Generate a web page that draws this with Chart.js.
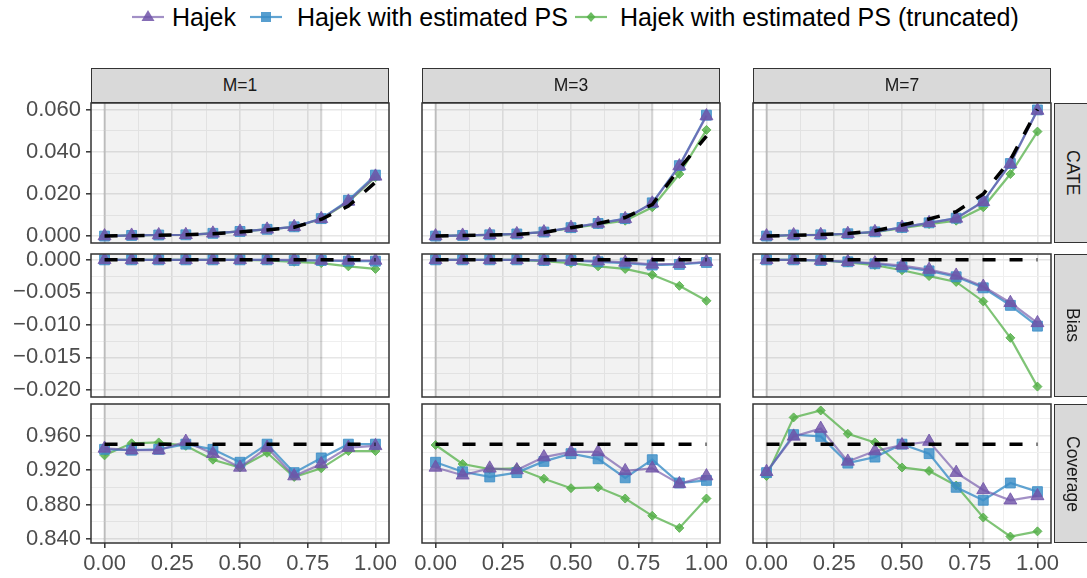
<!DOCTYPE html>
<html>
<head>
<meta charset="utf-8">
<title>Hajek estimators by M</title>
<script src="https://cdn.jsdelivr.net/npm/chart.js@4.4.1/dist/chart.umd.min.js"></script>
<style>
  body { margin: 0; background: #fff; font-family: "Liberation Sans", Arial, sans-serif; }
  #wrap { position: relative; width: 1087px; height: 578px; overflow: hidden; }
  canvas { position: absolute; }
  .strip { position: absolute; box-sizing: border-box; background: #d9d9d9; border: 1.5px solid #333;
           color: #1a1a1a; font-size: 17.5px; display: flex; align-items: center; justify-content: center; }
  .strip.side span { writing-mode: vertical-rl; }
  .key { position: absolute; top: 7px; }
  .ktext { position: absolute; top: 5px; font-size: 25px; line-height: 25px; color: #000; white-space: nowrap; }
</style>
</head>
<body>
<div id="wrap"></div>
<script>
// x grid shared by every panel
const xVals = [0, 0.1, 0.2, 0.3, 0.4, 0.5, 0.6, 0.7, 0.8, 0.9, 1.0];
const colLabels = ['M=1', 'M=3', 'M=7'];
const rowLabels = ['CATE', 'Bias', 'Coverage'];
const seriesNames = ['Hajek', 'Hajek with estimated PS', 'Hajek with estimated PS (truncated)'];

// CATE (one array per M)
const cateTruth = [
  [0.0000, 0.0002, 0.0004, 0.0006, 0.0011, 0.0019, 0.0029, 0.0042, 0.0080, 0.0143, 0.0256],
  [0.0000, 0.0003, 0.0005, 0.0008, 0.0017, 0.0040, 0.0060, 0.0088, 0.0150, 0.0320, 0.0475],
  [0.0000, 0.0004, 0.0007, 0.0012, 0.0025, 0.0052, 0.0081, 0.0116, 0.0200, 0.0362, 0.0603]
];
const cateHajek = [
  [0.0000, 0.0003, 0.0005, 0.0006, 0.0013, 0.0022, 0.0032, 0.0044, 0.0082, 0.0165, 0.0284],
  [0.0000, 0.0003, 0.0006, 0.0010, 0.0019, 0.0040, 0.0060, 0.0082, 0.0156, 0.0333, 0.0571],
  [0.0000, 0.0005, 0.0006, 0.0011, 0.0020, 0.0041, 0.0063, 0.0084, 0.0163, 0.0343, 0.0597]
];
const cateHajekPS = [
  [0.0000, 0.0003, 0.0005, 0.0006, 0.0013, 0.0022, 0.0032, 0.0044, 0.0083, 0.0170, 0.0290],
  [0.0000, 0.0003, 0.0006, 0.0010, 0.0019, 0.0040, 0.0060, 0.0083, 0.0158, 0.0335, 0.0575],
  [0.0000, 0.0005, 0.0006, 0.0011, 0.0020, 0.0041, 0.0063, 0.0085, 0.0165, 0.0345, 0.0600]
];
const cateHajekPSTrunc = [
  [0.0000, 0.0003, 0.0005, 0.0006, 0.0013, 0.0022, 0.0032, 0.0043, 0.0081, 0.0163, 0.0280],
  [0.0000, 0.0003, 0.0006, 0.0010, 0.0018, 0.0038, 0.0056, 0.0073, 0.0137, 0.0295, 0.0505],
  [0.0000, 0.0004, 0.0006, 0.0010, 0.0019, 0.0037, 0.0057, 0.0073, 0.0137, 0.0295, 0.0497]
];

// Bias
const biasTarget = 0;
const biasHajek = [
  [0, 0, 0, 0, 0, 0, 0, 0, -0.0001, -0.0001, -0.0001],
  [0, 0, 0, 0, -0.0001, -0.0001, -0.0002, -0.0004, -0.0007, -0.0006, -0.0003],
  [0, 0, -0.0001, -0.0003, -0.0005, -0.0009, -0.0015, -0.0024, -0.0041, -0.0066, -0.0097]
];
const biasHajekPS = [
  [0, 0, 0, 0, 0, 0, 0, -0.0001, -0.0001, -0.0002, -0.0002],
  [0, 0, 0, 0, -0.0001, -0.0001, -0.0003, -0.0005, -0.0008, -0.0007, -0.0004],
  [0, 0, -0.0001, -0.0003, -0.0006, -0.0011, -0.0017, -0.0026, -0.0043, -0.0070, -0.0102]
];
const biasHajekPSTrunc = [
  [0, 0, 0, 0, 0, 0, -0.0001, -0.0003, -0.0005, -0.0010, -0.0014],
  [0, 0, 0, 0, -0.0002, -0.0005, -0.0010, -0.0014, -0.0023, -0.0040, -0.0063],
  [0, 0, -0.0001, -0.0004, -0.0008, -0.0016, -0.0025, -0.0034, -0.0064, -0.0120, -0.0195]
];

// Coverage
const coverageTarget = 0.95;
const coverageHajek = [
  [0.945, 0.943, 0.943, 0.953, 0.939, 0.923, 0.946, 0.913, 0.927, 0.946, 0.948],
  [0.923, 0.914, 0.922, 0.920, 0.935, 0.941, 0.941, 0.919, 0.922, 0.904, 0.913],
  [0.918, 0.959, 0.968, 0.930, 0.942, 0.949, 0.953, 0.917, 0.897, 0.885, 0.890]
];
const coverageHajekPS = [
  [0.944, 0.943, 0.944, 0.950, 0.944, 0.929, 0.950, 0.917, 0.934, 0.950, 0.950],
  [0.929, 0.918, 0.912, 0.917, 0.930, 0.939, 0.933, 0.911, 0.932, 0.905, 0.908],
  [0.917, 0.961, 0.959, 0.928, 0.935, 0.950, 0.939, 0.900, 0.885, 0.905, 0.895]
];
const coverageHajekPSTrunc = [
  [0.937, 0.951, 0.952, 0.948, 0.932, 0.923, 0.940, 0.912, 0.922, 0.942, 0.942],
  [0.949, 0.927, 0.921, 0.922, 0.910, 0.899, 0.900, 0.887, 0.867, 0.853, 0.887],
  [0.913, 0.981, 0.989, 0.962, 0.952, 0.923, 0.919, 0.902, 0.865, 0.843, 0.849]
];

// axes
const xTicks = [0, 0.25, 0.5, 0.75, 1];
const xMinor = [0.125, 0.375, 0.625, 0.875];
const yTicks = [[0, 0.02, 0.04, 0.06], [-0.02, -0.015, -0.01, -0.005, 0], [0.84, 0.88, 0.92, 0.96]];
const yMinor = [[0.01, 0.03, 0.05], [-0.0175, -0.0125, -0.0075, -0.0025], [0.86, 0.90, 0.94, 0.98]];
const yLimits = [[-0.0033, 0.0633], [-0.0211, 0.0009], [0.8355, 0.9965]];
const shadeRange = [0, 0.8];

const purple = a => `rgba(112, 84, 168, ${a})`;
const blue = a => `rgba(58, 141, 199, ${a})`;
const green = a => `rgba(84, 176, 72, ${a})`;

const rows = [
  { truth: cateTruth, series: [cateHajek, cateHajekPS, cateHajekPSTrunc] },
  { truth: colLabels.map(() => xVals.map(() => biasTarget)), series: [biasHajek, biasHajekPS, biasHajekPSTrunc] },
  { truth: colLabels.map(() => xVals.map(() => coverageTarget)), series: [coverageHajek, coverageHajekPS, coverageHajekPSTrunc] }
];

const near = (a, list) => list.some(v => Math.abs(v - a) < 1e-9);
const fmtY = v => (v < -1e-12 ? '\u2212' : '') + Math.abs(v).toFixed(3);

// shaded band + panel border
const panelDeco = {
  id: 'panelDeco',
  beforeDatasetsDraw(chart) {
    const { ctx, chartArea: a, scales: { x } } = chart;
    const x0 = x.getPixelForValue(shadeRange[0]);
    const x1 = x.getPixelForValue(shadeRange[1]);
    ctx.save();
    ctx.fillStyle = 'rgba(0,0,0,0.05)';
    ctx.fillRect(x0, a.top, x1 - x0, a.bottom - a.top);
    ctx.strokeStyle = 'rgba(0,0,0,0.16)';
    ctx.lineWidth = 2;
    ctx.beginPath();
    ctx.moveTo(x0, a.top); ctx.lineTo(x0, a.bottom);
    ctx.moveTo(x1, a.top); ctx.lineTo(x1, a.bottom);
    ctx.stroke();
    ctx.restore();
  },
  afterDatasetsDraw(chart) {
    const { ctx, chartArea: a } = chart;
    ctx.save();
    ctx.strokeStyle = '#333';
    ctx.lineWidth = 1.5;
    ctx.strokeRect(a.left, a.top, a.right - a.left, a.bottom - a.top);
    ctx.restore();
  }
};

const wrap = document.getElementById('wrap');
const colLeft = [91, 422, 753], panelW = 298;
const rowTop = [103, 254, 404], rowH = [140, 143, 139];
const padT = 24, padR = 25, padB = 24, axisH = 36;
const tickFont = { family: '"Liberation Sans", Arial, sans-serif', size: 22 };

function seriesSet(data, color, style, radius, lineAlpha) {
  return {
    data: xVals.map((x, i) => ({ x, y: data[i] })),
    borderColor: color(lineAlpha), backgroundColor: color(0.8),
    pointBackgroundColor: color(0.82), pointBorderColor: color(0.82), pointBorderWidth: 1,
    pointStyle: style, pointRadius: radius, borderWidth: 2.2, tension: 0
  };
}

rows.forEach((row, r) => colLabels.forEach((lab, c) => {
  const yAxisW = c === 0 ? 91 : 20;
  const cv = document.createElement('canvas');
  cv.width = yAxisW + panelW + padR;
  cv.height = padT + rowH[r] + (r === 2 ? axisH : padB);
  cv.style.left = (colLeft[c] - yAxisW) + 'px';
  cv.style.top = (rowTop[r] - padT) + 'px';
  wrap.appendChild(cv);

  new Chart(cv, {
    type: 'line',
    data: {
      datasets: [
        { data: xVals.map((x, i) => ({ x, y: row.truth[c][i] })), borderColor: '#000',
          borderWidth: 3.5, borderDash: [13, 14], pointRadius: 0, tension: 0 },
        seriesSet(row.series[0][c], purple, 'triangle', 7.5, 0.65),
        seriesSet(row.series[1][c], blue, 'rect', 7, 0.8),
        seriesSet(row.series[2][c], green, 'rectRot', 4.5, 0.75)
      ]
    },
    options: {
      responsive: false, animation: false, devicePixelRatio: 1,
      layout: { padding: { top: padT, right: padR, bottom: r === 2 ? 0 : padB, left: 0 } },
      plugins: { legend: { display: false }, tooltip: { enabled: false } },
      scales: {
        x: {
          type: 'linear', min: -0.05, max: 1.05,
          afterBuildTicks: s => { s.ticks = [...xTicks, ...xMinor].sort((a, b) => a - b).map(v => ({ value: v })); },
          afterFit: s => { s.height = r === 2 ? axisH : 0; },
          border: { display: false },
          grid: {
            color: ctx => near(ctx.tick.value, xTicks) ? '#e6e6e6' : '#efefef',
            lineWidth: ctx => near(ctx.tick.value, xTicks) ? 1.6 : 1,
            drawTicks: r === 2, tickLength: 5, tickWidth: 1.5,
            tickColor: ctx => near(ctx.tick.value, xTicks) ? '#333' : 'rgba(0,0,0,0)'
          },
          ticks: {
            display: r === 2, autoSkip: false, maxRotation: 0, padding: 3,
            font: tickFont, color: '#4d4d4d',
            callback: v => near(v, xTicks) ? v.toFixed(2) : ''
          }
        },
        y: {
          type: 'linear', min: yLimits[r][0], max: yLimits[r][1],
          afterBuildTicks: s => { s.ticks = [...yTicks[r], ...yMinor[r]].sort((a, b) => a - b).map(v => ({ value: v })); },
          afterFit: s => { s.width = yAxisW; },
          border: { display: false },
          grid: {
            color: ctx => near(ctx.tick.value, yTicks[r]) ? '#e6e6e6' : '#efefef',
            lineWidth: ctx => near(ctx.tick.value, yTicks[r]) ? 1.6 : 1,
            drawTicks: c === 0, tickLength: 5, tickWidth: 1.5,
            tickColor: ctx => near(ctx.tick.value, yTicks[r]) ? '#333' : 'rgba(0,0,0,0)'
          },
          ticks: {
            display: c === 0, autoSkip: false, padding: 5,
            font: tickFont, color: '#4d4d4d',
            callback: v => near(v, yTicks[r]) ? fmtY(v) : ''
          }
        }
      }
    },
    plugins: [panelDeco]
  });
}));

// facet strips
colLabels.forEach((lab, c) => {
  const d = document.createElement('div');
  d.className = 'strip';
  Object.assign(d.style, { left: colLeft[c] + 'px', top: '68px', width: panelW + 'px', height: '35px' });
  d.textContent = lab;
  wrap.appendChild(d);
});
rowLabels.forEach((lab, r) => {
  const d = document.createElement('div');
  d.className = 'strip side';
  Object.assign(d.style, { left: '1054px', top: rowTop[r] + 'px', width: '36px', height: rowH[r] + 'px' });
  d.innerHTML = '<span>' + lab + '</span>';
  wrap.appendChild(d);
});

// legend
const keyShapes = [
  '<polygon points="16,3 22.5,14 9.5,14" fill="' + purple(0.85) + '"/>',
  '<rect x="11" y="5" width="10" height="10" fill="' + blue(0.85) + '"/>',
  '<polygon points="16,5 20.5,10 16,15 11.5,10" fill="' + green(0.85) + '"/>'
];
const keyColors = [purple(0.65), blue(0.8), green(0.75)];
const keyLeft = [132, 250, 575], textLeft = [172, 297, 620];
seriesNames.forEach((name, i) => {
  const k = document.createElement('div');
  k.className = 'key';
  k.style.left = keyLeft[i] + 'px';
  k.innerHTML = '<svg width="32" height="20"><line x1="0" y1="10" x2="32" y2="10" stroke="' + keyColors[i] +
    '" stroke-width="2.2"/>' + keyShapes[i] + '</svg>';
  wrap.appendChild(k);
  const t = document.createElement('div');
  t.className = 'ktext';
  t.style.left = textLeft[i] + 'px';
  t.textContent = name;
  wrap.appendChild(t);
});
</script>
</body>
</html>
